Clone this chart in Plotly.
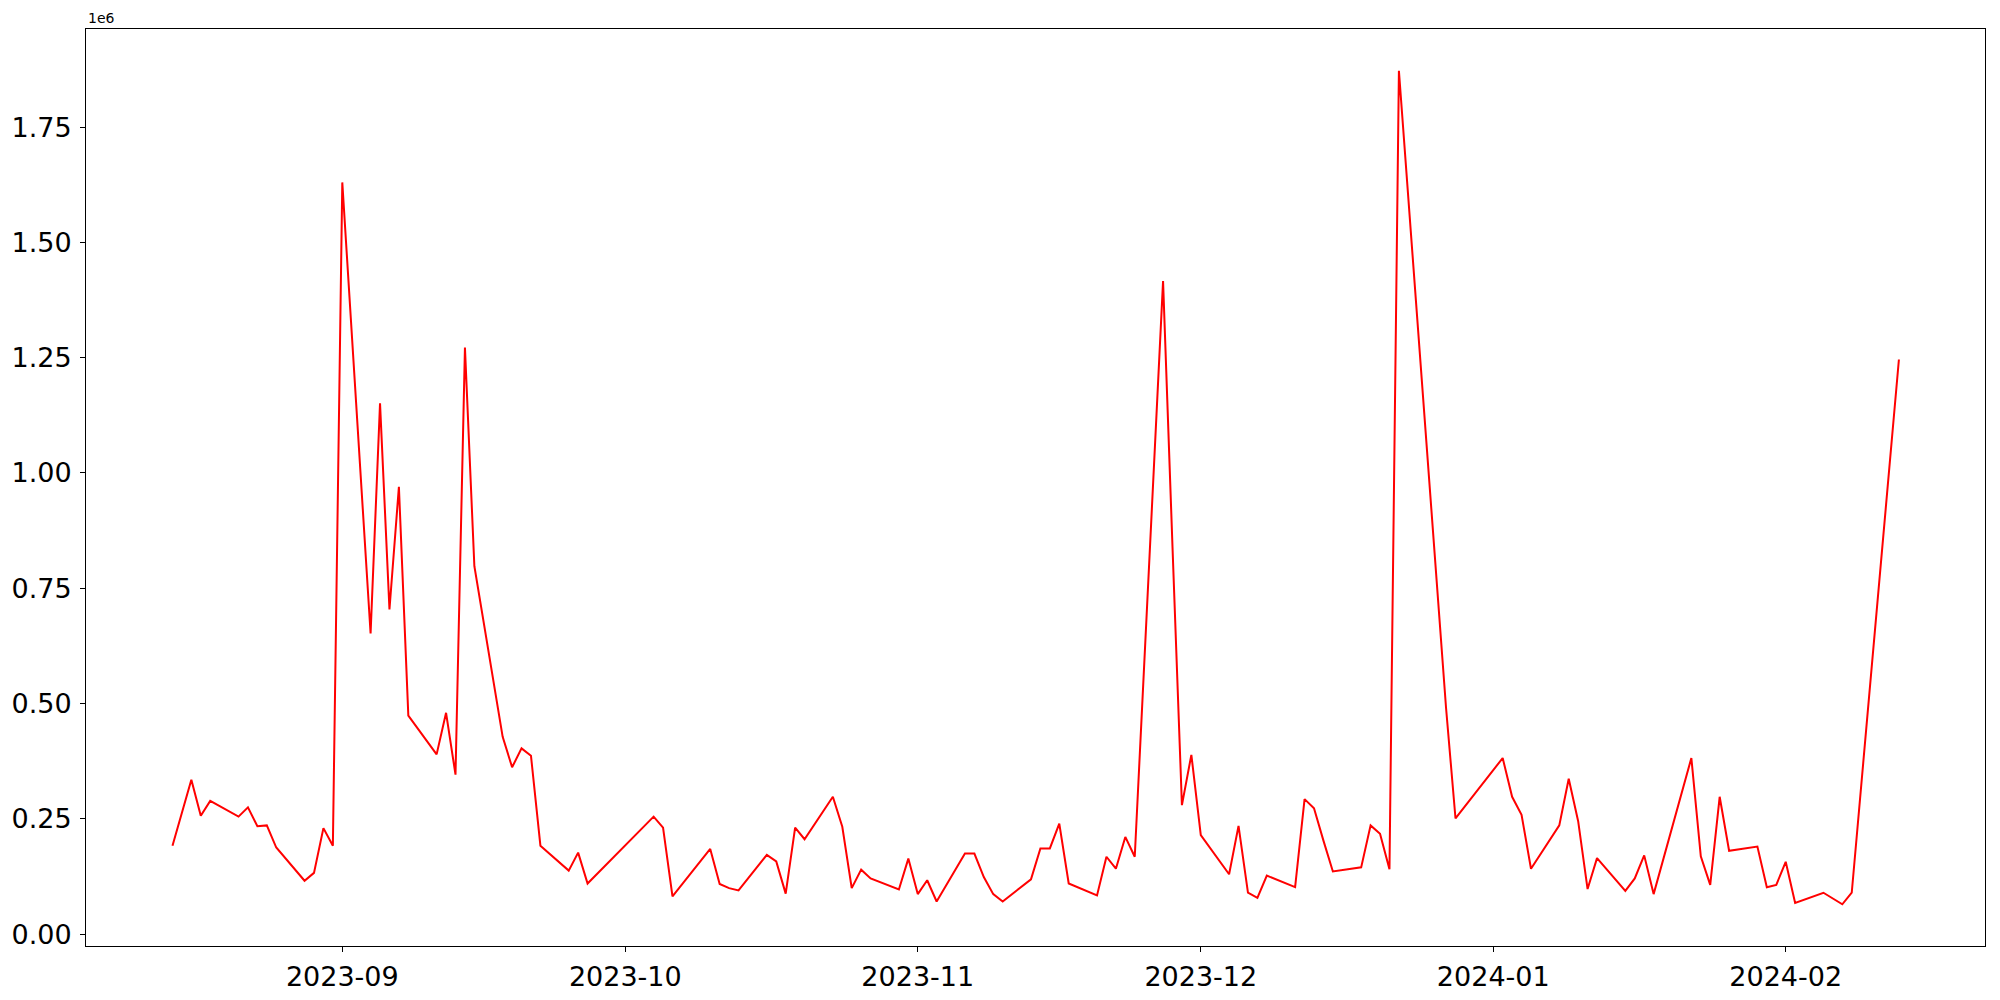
import plotly.graph_objects as go

dates = [
    "2023-08-14", "2023-08-16", "2023-08-17", "2023-08-18", "2023-08-21", "2023-08-22",
    "2023-08-23", "2023-08-24", "2023-08-25", "2023-08-28", "2023-08-29", "2023-08-30",
    "2023-08-31", "2023-09-01", "2023-09-04", "2023-09-05", "2023-09-06", "2023-09-07",
    "2023-09-08", "2023-09-11", "2023-09-12", "2023-09-13", "2023-09-14", "2023-09-15",
    "2023-09-18", "2023-09-19", "2023-09-20", "2023-09-21", "2023-09-22", "2023-09-25",
    "2023-09-26", "2023-09-27", "2023-10-04", "2023-10-05", "2023-10-06", "2023-10-10",
    "2023-10-11", "2023-10-12", "2023-10-13", "2023-10-16", "2023-10-17", "2023-10-18",
    "2023-10-19", "2023-10-20", "2023-10-23", "2023-10-24", "2023-10-25", "2023-10-26",
    "2023-10-27", "2023-10-30", "2023-10-31", "2023-11-01", "2023-11-02", "2023-11-03",
    "2023-11-06", "2023-11-07", "2023-11-08", "2023-11-09", "2023-11-10", "2023-11-13",
    "2023-11-14", "2023-11-15", "2023-11-16", "2023-11-17", "2023-11-20", "2023-11-21",
    "2023-11-22", "2023-11-23", "2023-11-24", "2023-11-27", "2023-11-28", "2023-11-29",
    "2023-11-30", "2023-12-01", "2023-12-04", "2023-12-05", "2023-12-06", "2023-12-07",
    "2023-12-08", "2023-12-11", "2023-12-12", "2023-12-13", "2023-12-14", "2023-12-15",
    "2023-12-18", "2023-12-19", "2023-12-20", "2023-12-21", "2023-12-22", "2023-12-27",
    "2023-12-28", "2024-01-02", "2024-01-03", "2024-01-04", "2024-01-05", "2024-01-08",
    "2024-01-09", "2024-01-10", "2024-01-11", "2024-01-12", "2024-01-15", "2024-01-16",
    "2024-01-17", "2024-01-18", "2024-01-22", "2024-01-23", "2024-01-24", "2024-01-25",
    "2024-01-26", "2024-01-29", "2024-01-30", "2024-01-31", "2024-02-01", "2024-02-02",
    "2024-02-05", "2024-02-07", "2024-02-08", "2024-02-13",
]

values = [
    192000, 335000, 257000, 289000, 255000, 275000,
    234000, 236000, 188000, 116000, 133000, 230000,
    192000, 1630000, 652000, 1151000, 704000, 970000,
    474000, 390000, 480000, 346000, 1272000, 798000,
    428000, 362000, 403000, 387000, 192000, 138000,
    177000, 110000, 255000, 231000, 82000, 185000,
    109000, 100000, 95000, 172000, 158000, 88000,
    231000, 206000, 298000, 233000, 100000, 140000,
    121000, 97000, 164000, 87000, 117000, 71000,
    175000, 175000, 124000, 87000, 71000, 119000,
    186000, 186000, 240000, 110000, 84000, 168000,
    142000, 211000, 168000, 1416000, 840000, 280000,
    389000, 215000, 130000, 235000, 90000, 79000,
    127000, 102000, 293000, 273000, 203000, 136000,
    145000, 236000, 218000, 141000, 1872000, 490000,
    251000, 382000, 298000, 259000, 142000, 236000,
    337000, 245000, 98000, 165000, 94000, 121000,
    171000, 87000, 382000, 169000, 107000, 298000,
    181000, 190000, 102000, 107000, 157000, 68000,
    90000, 65000, 90000, 1246000,
]

x_tick_vals = ["2023-09-01", "2023-10-01", "2023-11-01", "2023-12-01", "2024-01-01", "2024-02-01"]
x_tick_text = ["2023-09", "2023-10", "2023-11", "2023-12", "2024-01", "2024-02"]
y_tick_vals = [0, 250000, 500000, 750000, 1000000, 1250000, 1500000, 1750000]
y_tick_text = ["0.00", "0.25", "0.50", "0.75", "1.00", "1.25", "1.50", "1.75"]

font_family = "DejaVu Sans"

fig = go.Figure()
fig.add_trace(go.Scatter(
    x=dates, y=values, mode="lines",
    line=dict(color="red", width=2),
    showlegend=False,
))

axis_common = dict(
    showline=True, linecolor="black", linewidth=1, mirror=True,
    showgrid=False, zeroline=False,
    ticks="outside", ticklen=5, tickwidth=1, tickcolor="black",
    tickfont=dict(family=font_family, size=27, color="black"),
)

fig.update_xaxes(
    type="date",
    range=["2023-08-04 20:00", "2024-02-22 03:00"],
    tickmode="array", tickvals=x_tick_vals, ticktext=x_tick_text,
    ticklabelstandoff=2,
    **axis_common,
)
fig.update_yaxes(
    range=[-25500, 1962600],
    tickmode="array", tickvals=y_tick_vals, ticktext=y_tick_text,
    ticklabelstandoff=3,
    **axis_common,
)

fig.add_annotation(
    text="1e6", xref="paper", yref="paper", x=0, y=1,
    xanchor="left", yanchor="bottom", showarrow=False, yshift=1,
    font=dict(family=font_family, size=14, color="black"),
)

fig.update_layout(
    width=2000, height=1000,
    margin=dict(l=86, r=15, t=29, b=54, pad=0, autoexpand=False),
    paper_bgcolor="white", plot_bgcolor="white",
    font=dict(family=font_family, color="black"),
)

fig.write_html(
    "out.html",
    config={"displayModeBar": False},
    post_script="document.body.style.margin='0';document.body.style.overflow='hidden';",
)
